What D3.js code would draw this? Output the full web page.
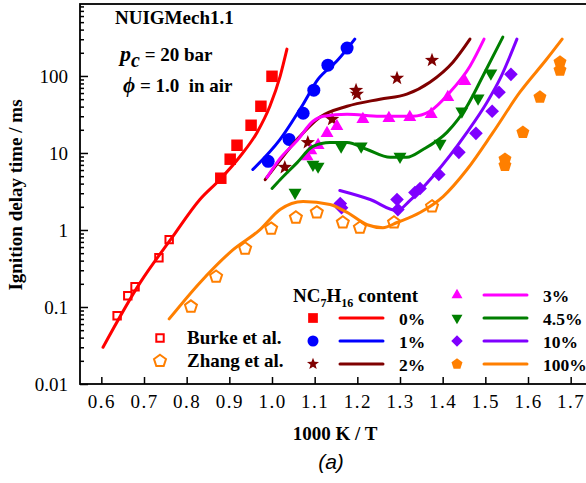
<!DOCTYPE html>
<html>
<head>
<meta charset="utf-8">
<script src="https://cdn.jsdelivr.net/npm/d3@7"></script>
<style>
  body { margin: 0; background: #fff; }
  svg { display: block; font-family: 'Liberation Serif', 'Times New Roman', serif; }
</style>
</head>
<body>
<div id="chart"></div>
<script>
;(function(){
  const W = 586, H = 483;

  // axes
  const xTicks = [0.6, 0.7, 0.8, 0.9, 1.0, 1.1, 1.2, 1.3, 1.4, 1.5, 1.6, 1.7];
  const yTicks = [0.01, 0.1, 1, 10, 100];

  // experiments [1000/T, IDT ms]
  const exp0   = [[0.880,4.7],[0.902,8.3],[0.918,12.6],[0.951,22.9],[0.974,40.4],[1.000,99]];
  const exp1   = [[0.991,7.8],[1.040,15.0],[1.073,32.8],[1.098,65.3],[1.131,138],[1.176,230]];
  const exp2   = [[1.030,6.5],[1.084,13.7],[1.141,27.4],[1.197,65.3],[1.199,58.0],[1.293,93.6],[1.375,160]];
  const exp3   = [[1.082,9.0],[1.091,10.8],[1.108,12.6],[1.129,18.0],[1.152,22.2],[1.213,27.4],[1.274,28.2],[1.323,29.1],[1.373,31.8],[1.412,53.0],[1.452,85.6]];
  const exp45  = [[1.054,3.07],[1.096,7.1],[1.108,6.7],[1.162,12.2],[1.209,12.2],[1.300,9.0],[1.394,13.3],[1.445,34.8],[1.483,51.4],[1.513,108.7]];
  const exp10  = [[1.160,2.2],[1.163,1.95],[1.293,2.49],[1.295,1.84],[1.335,3.07],[1.347,3.46],[1.391,5.27],[1.438,10.2],[1.478,18.0],[1.516,34.8],[1.532,61.5],[1.560,105]];
  const exp100 = [[1.546,6.9],[1.546,8.3],[1.588,18.5],[1.628,53],[1.675,119],[1.675,151]];
  const burke  = [[0.637,0.077],[0.662,0.14],[0.679,0.183],[0.735,0.437],[0.759,0.75]];
  const zhang  = [[0.810,0.101],[0.869,0.247],[0.937,0.573],[0.998,1.04],[1.056,1.45],[1.105,1.69],[1.166,1.25],[1.206,1.07],[1.286,1.25],[1.375,2.02]];

  // NUIGMech1.1 simulations
  const sim0   = [[0.604,0.030],[0.691,0.207],[0.766,0.80],[0.831,2.49],[0.878,4.53],[0.925,9.0],[0.965,18.5],[0.995,40.4],[1.019,99],[1.035,223]];
  const sim1   = [[0.955,6.1],[1.019,15.0],[1.070,40.4],[1.108,90.8],[1.152,156],[1.194,301]];
  const sim2   = [[0.984,4.5],[1.059,15.0],[1.112,29.1],[1.176,40.4],[1.253,49.9],[1.316,58],[1.370,83],[1.424,151],[1.464,301]];
  const sim3   = [[0.988,4.8],[1.019,8.5],[1.059,14.5],[1.096,25.8],[1.120,30],[1.176,31.8],[1.253,30],[1.330,30],[1.370,34.8],[1.417,61.5],[1.464,134],[1.497,301]];
  const sim45  = [[1.000,3.46],[1.019,4.5],[1.059,7.5],[1.096,12.2],[1.136,13.7],[1.176,13.7],[1.223,11.1],[1.277,8.8],[1.316,8.8],[1.354,11.1],[1.410,18.5],[1.457,40.4],[1.494,99],[1.541,320]];
  const sim10  = [[1.159,3.26],[1.230,2.49],[1.293,1.79],[1.323,2.41],[1.377,4.96],[1.457,18.5],[1.504,45.6],[1.534,90.8],[1.574,301]];
  const sim100 = [[0.759,0.070],[0.831,0.207],[0.909,0.556],[0.972,1.01],[1.019,1.84],[1.073,2.34],[1.136,2.14],[1.176,1.69],[1.223,1.17],[1.260,1.07],[1.293,1.25],[1.347,1.69],[1.401,2.72],[1.457,6.1],[1.518,18.5],[1.581,61.5],[1.644,166],[1.680,301]];

  const labels = ['0%', '1%', '2%', '3%', '4.5%', '10%', '100%'];
  const colors = ['#ff0000', '#0000ff', '#7f0000', '#ff00ff', '#007f00', '#7f00ff', '#ff7f00'];
  const shapes = ['square', 'circle', 'star', 'triangle', 'down', 'diamond', 'pentagon'];

  const series = labels.map((l, i) => ({
    label: l, color: colors[i], shape: shapes[i],
    exp: [exp0, exp1, exp2, exp3, exp45, exp10, exp100][i],
    sim: [sim0, sim1, sim2, sim3, sim45, sim10, sim100][i]
  }));

  const x = d3.scaleLinear().domain([0.55, 1.75]).range([80, 592]);
  const y = d3.scaleLog().domain([0.01, 860]).range([384, 4]);

  // marker paths, r ~ half size
  function poly(n, r, rot) {
    return d3.range(n).map(k => {
      const a = (rot + k * 360 / n) * Math.PI / 180;
      return [r * Math.cos(a), r * Math.sin(a)];
    });
  }
  function marker(shape, r) {
    let pts;
    if (shape === 'circle') return d3.symbol(d3.symbolCircle, Math.PI * r * r)();
    if (shape === 'square') pts = poly(4, r * 1.25, 45);
    else if (shape === 'diamond') pts = poly(4, r * 1.05, 0);
    else if (shape === 'triangle') pts = poly(3, r * 1.15, -90);
    else if (shape === 'down') pts = poly(3, r * 1.15, 90);
    else if (shape === 'pentagon') pts = poly(5, r * 1.05, -90);
    else if (shape === 'star') {
      const o = poly(5, r * 1.15, -90), inner = poly(5, r * 0.48, -54);
      pts = [];
      o.forEach((p, k) => { pts.push(p, inner[k]); });
    }
    return 'M' + pts.map(p => p.join(',')).join('L') + 'Z';
  }

  const svg = d3.select('#chart')
    .append('svg')
      .attr('width', W)
      .attr('height', H);

  // minor y ticks
  const minor = [];
  yTicks.forEach(t => d3.range(2, 10).forEach(m => { if (t * m < 860) minor.push(t * m); }));
  svg.append('g')
    .attr('transform', 'translate(80,0)')
    .call(d3.axisLeft(y).tickValues(minor).tickSize(-4).tickSizeOuter(0).tickFormat(''))
    .call(g => g.select('.domain').remove())
    .selectAll('line').attr('stroke', '#000').attr('stroke-width', 1.5);

  const yAx = svg.append('g')
    .attr('transform', 'translate(80,0)')
    .call(d3.axisLeft(y).tickValues(yTicks).tickSize(-8).tickSizeOuter(0).tickPadding(12).tickFormat(d => String(d)));
  yAx.select('.domain').remove();
  yAx.selectAll('line').attr('stroke', '#000').attr('stroke-width', 1.5);
  yAx.selectAll('text').attr('font-size', 19).attr('font-family', 'Liberation Serif').attr('fill', '#000');

  const xAx = svg.append('g')
    .attr('transform', 'translate(0,384)')
    .call(d3.axisBottom(x).tickValues(xTicks).tickSize(-7).tickSizeOuter(0).tickPadding(11).tickFormat(d3.format('.1f')));
  xAx.select('.domain').remove();
  xAx.selectAll('line').attr('stroke', '#000').attr('stroke-width', 1.5);
  xAx.selectAll('text').attr('font-size', 19).attr('letter-spacing', 1.5)
    .attr('font-family', 'Liberation Serif').attr('fill', '#000');

  // frame
  svg.append('rect')
    .attr('x', 80).attr('y', 4)
    .attr('width', 512).attr('height', 380)
    .attr('fill', 'none').attr('stroke', '#000').attr('stroke-width', 1.8);

  // markers
  const mk = svg.append('g');
  series.forEach(s => {
    mk.append('g').selectAll('path')
      .data(s.exp)
      .enter().append('path')
        .attr('d', marker(s.shape, 6.5))
        .attr('transform', d => `translate(${x(d[0])},${y(d[1])})`)
        .attr('fill', s.color);
  });
  [[burke, 'square', colors[0], 4.2], [zhang, 'pentagon', colors[6], 6]].forEach(([data, shape, c, r]) => {
    mk.append('g').selectAll('path')
      .data(data)
      .enter().append('path')
        .attr('d', marker(shape, r))
        .attr('transform', d => `translate(${x(d[0])},${y(d[1])})`)
        .attr('fill', 'none')
        .attr('stroke', c)
        .attr('stroke-width', 2);
  });

  // model lines
  const line = d3.line()
    .x(d => x(d[0]))
    .y(d => y(d[1]))
    .curve(d3.curveMonotoneX);
  svg.append('g').selectAll('path')
    .data(series)
    .enter().append('path')
      .attr('d', d => line(d.sim))
      .attr('fill', 'none')
      .attr('stroke', d => d.color)
      .attr('stroke-width', 3)
      .attr('stroke-linecap', 'round');

  // annotations
  const bold = sel => sel.attr('font-weight', 'bold').attr('fill', '#000');
  svg.append('text').attr('x', 115).attr('y', 24).attr('font-size', 19).text('NUIGMech1.1').call(bold);
  const pc = svg.append('text').attr('x', 120).attr('y', 61).attr('font-size', 19).call(bold);
  pc.append('tspan').attr('font-style', 'italic').attr('font-size', 22).text('p');
  pc.append('tspan').attr('font-style', 'italic').attr('font-size', 20).attr('dy', 6).text('c');
  pc.append('tspan').attr('dy', -6).text(' = 20 bar');
  const ph = svg.append('text').attr('x', 123).attr('y', 92).attr('font-size', 19).call(bold);
  ph.append('tspan').attr('font-style', 'italic').attr('font-size', 21).text('ϕ');
  ph.append('tspan').attr('xml:space', 'preserve').text(' = 1.0  in air');

  // axis titles
  svg.append('text')
    .attr('transform', 'translate(22,195) rotate(-90)')
    .attr('text-anchor', 'middle')
    .attr('font-size', 19)
    .text('Ignition delay time / ms').call(bold);
  svg.append('text')
    .attr('x', 335).attr('y', 440)
    .attr('text-anchor', 'middle')
    .attr('font-size', 19)
    .text('1000 K / T').call(bold);
  svg.append('text')
    .attr('x', 331).attr('y', 469)
    .attr('text-anchor', 'middle')
    .attr('font-family', 'Liberation Sans, Arial, sans-serif')
    .attr('font-style', 'italic')
    .attr('font-size', 21)
    .text('(a)');

  // legend: literature data
  const lit = [['Burke et al.', 'square', colors[0], 4.2], ['Zhang et al.', 'pentagon', colors[6], 6]];
  lit.forEach((d, i) => {
    svg.append('path')
      .attr('d', marker(d[1], d[3]))
      .attr('transform', `translate(160,${338 + i * 23})`)
      .attr('fill', 'none').attr('stroke', d[2]).attr('stroke-width', 2);
    svg.append('text')
      .attr('x', 187).attr('y', 344 + i * 23)
      .attr('font-size', 19)
      .text(d[0]).call(bold);
  });

  // legend: NC7H16 content
  const ttl = svg.append('text').attr('x', 293).attr('y', 302).attr('font-size', 19).call(bold);
  ttl.append('tspan').text('NC');
  ttl.append('tspan').attr('font-size', 12).attr('dy', 5).text('7');
  ttl.append('tspan').attr('dy', -5).text('H');
  ttl.append('tspan').attr('font-size', 12).attr('dy', 5).text('16');
  ttl.append('tspan').attr('dy', -5).text(' content');

  series.forEach((s, i) => {
    const col = i < 3 ? 0 : 1,
          row = i < 3 ? i + 1 : i - 3,
          x0 = col ? 457 : 313,
          y0 = 295 + row * 23;
    const g = svg.append('g').attr('transform', `translate(${x0},${y0})`);
    g.append('path').attr('d', marker(s.shape, 5.5)).attr('fill', s.color);
    g.append('line')
      .attr('x1', 27).attr('x2', 70)
      .attr('stroke', s.color).attr('stroke-width', 3).attr('stroke-linecap', 'round');
    g.append('text')
      .attr('x', 86).attr('y', 7)
      .attr('font-size', 17.5)
      .text(s.label).call(bold);
  });
})();
</script>
</body>
</html>
